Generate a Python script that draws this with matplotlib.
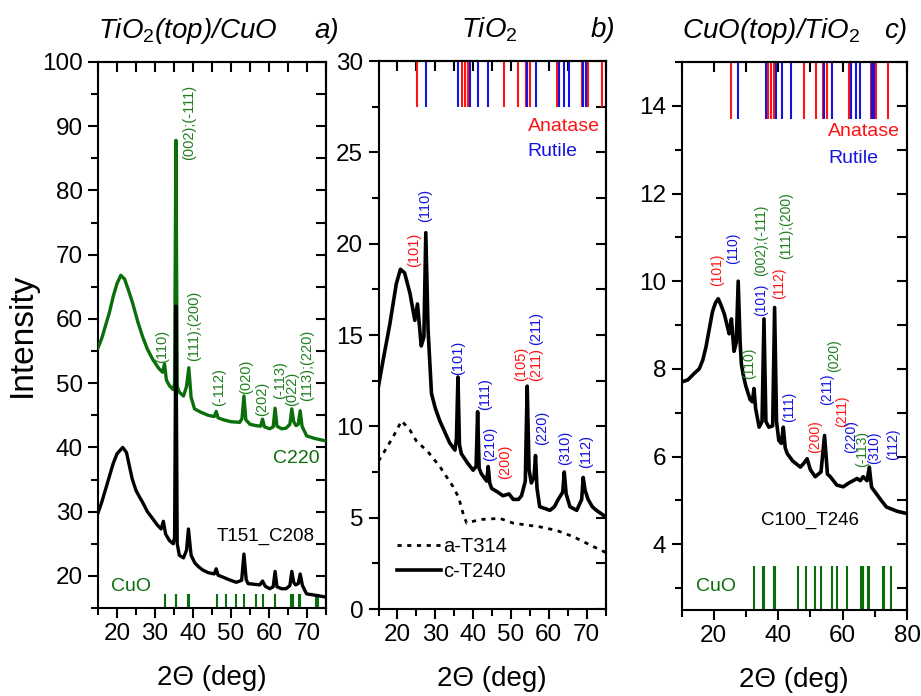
import matplotlib
matplotlib.use('Agg')
import matplotlib.pyplot as plt
from matplotlib.ticker import MultipleLocator

plt.rcParams.update({
    'font.family': ['Liberation Sans', 'DejaVu Sans'],
    'mathtext.fontset': 'custom',
    'mathtext.rm': 'Liberation Sans',
    'mathtext.it': 'Liberation Sans:italic',
    'axes.linewidth': 1.5,
})

GREEN = '#0a6e0a'
LGREEN = '#1f7f1f'
RED = '#ff1414'
BLUE = '#1414e0'

# ---------------- data: panel a ----------------
a_green_x = [15, 16, 17, 18, 19, 20, 21, 22, 23, 24.1, 25.5, 26.7, 28, 29.4, 31, 32.0, 32.5, 33.0, 33.8, 34.8,
             35.15, 35.5, 35.85, 36.4, 37.5, 38.3, 38.9, 39.5, 40.4, 42, 44, 45.6, 46.1, 46.6, 48, 50, 52.3,
             52.9, 53.4, 53.9, 55.0, 56.5, 57.8, 58.3, 58.8, 60.2, 61.1, 61.6, 62.1, 63.3, 64.5, 65.5, 66.0,
             66.5, 67.1, 67.7, 68.2, 68.7, 69.9, 72, 75]
a_green_y = [55.5, 57.0, 59.0, 61.0, 63.5, 65.5, 66.8, 66.2, 64.5, 62.5, 59.5, 57.3, 55.3, 53.7, 52.3, 51.7,
             53.0, 50.5, 49.6, 49.0, 50.0, 87.8, 49.5, 48.6, 48.0, 49.5, 52.4, 47.8, 46.0, 45.5, 45.0, 44.8,
             45.6, 44.6, 44.3, 44.0, 43.9, 44.5, 48.0, 44.3, 43.6, 43.4, 43.3, 44.4, 43.2, 42.9, 43.2, 46.1,
             43.3, 42.9, 43.0, 43.6, 46.0, 44.0, 43.4, 43.6, 45.7, 43.3, 41.8, 41.4, 41.0]

a_black_x = [15, 16, 17, 18, 19, 20, 21.5, 22.5, 23.3, 24, 25, 26, 26.7, 28, 29.4, 30.5, 31.6, 32.2, 32.8,
             33.8, 34.8, 35.15, 35.5, 35.85, 36.4, 37.5, 38.3, 38.8, 39.5, 40.5, 41.5, 42.6, 44, 45.6, 46.1,
             46.6, 47.9, 49.5, 51.4, 52.8, 53.4, 54.0, 54.5, 56, 57.6, 58.3, 59, 60.2, 61.1, 61.6, 62.1,
             63.3, 64.5, 65.5, 66.0, 66.5, 67.0, 67.7, 68.2, 68.8, 69.9, 72, 75]
a_black_y = [29.8, 31.5, 33.5, 35.5, 37.5, 39.0, 40.0, 39.2, 37.0, 35.1, 33.3, 32.2, 31.5, 30.0, 28.9, 28.0,
             27.3, 28.5, 26.5, 25.5, 25.0, 26.0, 62.0, 25.0, 23.2, 22.8, 24.0, 27.3, 23.2, 22.0, 21.4, 20.9,
             20.5, 20.3, 21.1, 20.1, 19.8, 19.4, 19.0, 19.3, 23.4, 19.4, 18.8, 18.7, 18.6, 19.2, 18.4, 18.0,
             18.3, 20.7, 18.3, 18.0, 18.0, 18.5, 20.7, 19.0, 18.6, 18.8, 20.3, 18.5, 17.2, 17.0, 16.7]

cuo_ref = [32.5, 35.4, 35.6, 38.7, 38.9, 46.2, 48.7, 51.3, 53.4, 56.7, 58.3, 61.5, 65.8, 66.2, 66.4,
           67.9, 68.1, 72.4, 72.7, 73.0, 75.0]

a_lab_x = [31.8, 39.1, 40.4, 47.0, 54.1, 58.2, 62.9, 66.1, 70.1]
a_lab_y = [53.2, 84.8, 53.5, 46.5, 48.3, 44.9, 47.5, 46.5, 47.3]
a_lab_t = ['(110)', '(002);(-111)', '(111);(200)', '(-112)', '(020)', '(202)', '(-113)', '(022)',
           '(113);(220)']

# ---------------- data: panel b ----------------
b_c_x = [15, 16.2, 18.0, 19.7, 20.8, 21.9, 23.3, 24.6, 25.3, 26.3, 27.0, 27.5, 28.1, 29.0, 30.0, 31.2,
         32.5, 33.8, 35.2, 35.6, 36.0, 36.4, 36.9, 38.5, 40.0, 40.8, 41.2, 41.6, 42.2, 43.6, 44.0, 44.4,
         44.9, 46.5, 47.9, 49.5, 50.6, 52.0, 52.8, 53.8, 54.3, 54.8, 55.4, 56.1, 56.5, 56.9, 57.6, 59.0,
         60.3, 61.5, 62.5, 63.7, 64.1, 64.6, 65.6, 67.4, 68.7, 69.1, 69.6, 70.4, 71.5, 72.6, 74, 75]
b_c_y = [12.2, 13.6, 15.6, 17.8, 18.6, 18.4, 17.3, 15.8, 16.7, 14.4, 14.9, 20.6, 15.3, 11.8, 11.0, 10.3,
         9.7, 9.1, 8.7, 9.3, 12.7, 9.0, 8.5, 8.0, 7.6, 7.8, 10.8, 7.7, 7.4, 7.0, 7.8, 6.9,
         6.6, 6.4, 6.2, 6.3, 6.0, 6.0, 6.2, 7.0, 12.2, 7.6, 6.9, 7.2, 8.4, 6.6, 5.6, 5.5,
         5.4, 5.6, 6.0, 6.4, 7.5, 6.3, 5.6, 5.4, 6.0, 7.2, 6.5, 6.0, 5.6, 5.4, 5.2, 5.05]

b_a_x = [15, 16.5, 18.8, 21.1, 23.3, 25.0, 28.1, 31.2, 34.7, 36.2, 37.4, 38.3, 41.8, 47.1, 50.6, 57.6,
         62.1, 66.5, 70.0, 75]
b_a_y = [8.1, 8.6, 9.4, 10.3, 9.8, 9.2, 8.6, 7.8, 6.7, 6.1, 5.2, 4.7, 4.9, 4.96, 4.7, 4.5,
         4.3, 3.96, 3.6, 3.1]

anatase_ref = [25.28, 36.95, 37.80, 38.58, 48.05, 51.9, 53.89, 55.06, 62.12, 62.69, 68.76, 70.31, 74.03]
rutile_ref = [27.45, 36.09, 39.19, 41.23, 44.05, 54.32, 56.64, 62.74, 64.04, 65.48, 69.01, 69.79]

b_lab_x = [24.3, 27.2, 36.0, 43.3, 44.55, 48.4, 52.8, 56.7, 56.7, 58.25, 64.4, 70.0]
b_lab_y = [18.7, 21.2, 12.8, 10.9, 8.1, 7.1, 12.5, 12.5, 14.45, 9.0, 7.9, 7.7]
b_lab_t = ['(101)', '(110)', '(101)', '(111)', '(210)', '(200)', '(105)', '(211)', '(211)', '(220)',
           '(310)', '(112)']
b_lab_c = ['A', 'R', 'R', 'R', 'R', 'A', 'A', 'A', 'R', 'R', 'R', 'R']

# ---------------- data: panel c ----------------
c_x = [10, 12, 14, 15.5, 16.6, 17.6, 18.6, 19.6, 20.5, 21.4, 22.3, 23.3, 24.3, 24.8, 25.5, 26.3, 27.0,
       27.6, 28.2, 28.6, 29.2, 30.0, 31.3, 32.0, 32.5, 33.0, 34.1, 35.0, 35.6, 36.2, 37.1, 38.3, 38.9,
       39.5, 40.2, 41.0, 41.6, 42.2, 42.8, 44.5, 46.9, 48.0, 49.0, 50.0, 51.5, 53.3, 54.4, 55.3, 56.2,
       58.2, 60.2, 62.0, 63.3, 64.5, 65.5, 66.4, 67.6, 68.3, 69.0, 70.5, 72.0, 73.6, 77, 80]
c_y = [7.7, 7.75, 7.9, 8.0, 8.2, 8.5, 8.9, 9.3, 9.5, 9.6, 9.45, 9.25, 8.95, 8.8, 9.14, 8.4, 8.6,
       10.0, 8.6, 8.1, 7.85, 7.6, 7.3, 7.25, 7.55, 7.1, 6.67, 6.8, 9.14, 6.8, 6.67, 6.7, 9.4,
       6.8, 6.37, 6.3, 6.67, 6.2, 6.07, 5.9, 5.76, 5.85, 5.95, 5.7, 5.54, 5.65, 6.48, 5.6, 5.54,
       5.35, 5.31, 5.4, 5.45, 5.5, 5.45, 5.54, 5.45, 5.76, 5.3, 5.15, 5.0, 4.85, 4.75, 4.7]

c_lab_x = [21.2, 25.9, 34.6, 34.6, 40.2, 42.6, 31.0, 43.3, 51.5, 55.1, 57.5, 59.75, 62.5, 66.0, 69.8, 75.65]
c_lab_y = [9.89, 10.39, 9.21, 10.12, 9.59, 10.5, 7.77, 6.79, 6.07, 7.17, 7.92, 6.67, 6.07, 5.76, 5.84, 5.92]
c_lab_t = ['(101)', '(110)', '(101)', '(002);(-111)', '(112)', '(111);(200)', '(110)', '(111)', '(200)',
           '(211)', '(020)', '(211)', '(220)', '(-113)', '(310)', '(112)']
c_lab_c = ['A', 'R', 'R', 'C', 'A', 'C', 'C', 'R', 'A', 'R', 'C', 'A', 'R', 'C', 'R', 'R']

COL = {'A': RED, 'R': BLUE, 'C': LGREEN}

# ---------------- figure ----------------
fig = plt.figure(figsize=(9.21, 6.96), dpi=100)
axa = fig.add_axes([98 / 921, 88 / 696, 228 / 921, 546 / 696])
axb = fig.add_axes([378.5 / 921, 87 / 696, 227 / 921, 548 / 696])
axc = fig.add_axes([681.5 / 921, 86 / 696, 225.5 / 921, 548 / 696])

TICKFS = 17.5
TITLEFS = 20
PEAKFS = 10.5


def style(ax, xlim, ylim, xmaj, xmin, ymaj, ymin, rstep):
    ax.set_xlim(*xlim)
    ax.set_ylim(*ylim)
    ax.xaxis.set_major_locator(MultipleLocator(xmaj))
    ax.xaxis.set_minor_locator(MultipleLocator(xmin))
    ax.yaxis.set_major_locator(MultipleLocator(ymaj))
    ax.yaxis.set_minor_locator(MultipleLocator(ymin))
    ax.tick_params(which='both', direction='out', width=1.5, labelsize=TICKFS, top=False, right=False)
    ax.tick_params(which='major', length=7, pad=4)
    ax.tick_params(which='minor', length=5)
    st = ax.secondary_xaxis('top')
    st.xaxis.set_major_locator(MultipleLocator(xmin))
    st.tick_params(direction='in', length=7, width=1.5, labeltop=False)
    sr = ax.secondary_yaxis('right')
    sr.yaxis.set_major_locator(MultipleLocator(rstep))
    sr.tick_params(direction='in', length=7, width=1.5, labelright=False)
    ax.set_xlabel('2\u0398 (deg)', fontsize=20, labelpad=14)


# panel a
style(axa, (15, 75), (15, 100), 10, 5, 10, 5, 5)
axa.plot(a_green_x, a_green_y, color=GREEN, lw=2.4, zorder=3)
axa.plot(a_black_x, a_black_y, color='black', lw=2.4, zorder=4)
axa.vlines(cuo_ref, 15, 17.2, color=GREEN, lw=1.5)
for x, y, t in zip(a_lab_x, a_lab_y, a_lab_t):
    axa.text(x, y, t, rotation=90, ha='center', va='bottom', color=LGREEN, fontsize=PEAKFS)
axa.text(73.2, 38.2, 'C220', color=GREEN, fontsize=14, ha='right', va='center')
axa.text(46.1, 26.1, 'T151_C208', color='black', fontsize=13.5, ha='left', va='center')
axa.text(23.8, 18.3, 'CuO', color=GREEN, fontsize=14, ha='center', va='center')
axa.set_ylabel('Intensity', fontsize=24, labelpad=3)
axa.text(0.0, 1.057, r'TiO$_\mathit{2}$(top)/CuO', transform=axa.transAxes, fontsize=TITLEFS,
         style='italic', ha='left', va='center')
axa.text(1.055, 1.057, 'a)', transform=axa.transAxes, fontsize=TITLEFS, style='italic',
         ha='right', va='center')

# panel b
style(axb, (15, 75), (0, 30), 10, 5, 5, 2.5, 2.5)
axb.plot(b_a_x, b_a_y, color='black', lw=2.0, ls=(0, (1.5, 2.0)), label='a-T314')
axb.plot(b_c_x, b_c_y, color='black', lw=2.6, label='c-T240')
axb.vlines(anatase_ref, 27.5, 30, color=RED, lw=1.5)
axb.vlines(rutile_ref, 27.5, 30, color=BLUE, lw=1.5)
for x, y, t, c in zip(b_lab_x, b_lab_y, b_lab_t, b_lab_c):
    axb.text(x, y, t, rotation=90, ha='center', va='bottom', color=COL[c], fontsize=PEAKFS)
axb.text(54.4, 26.4, 'Anatase', color=RED, fontsize=14, ha='left', va='center')
axb.text(54.4, 25.05, 'Rutile', color=BLUE, fontsize=14, ha='left', va='center')
axb.legend(loc='lower left', bbox_to_anchor=(0.02, 0.025), frameon=False, fontsize=14.5,
           handlelength=2.2, handletextpad=0.1, labelspacing=0.3, borderpad=0.2)
axb.text(0.49, 1.057, r'TiO$_\mathit{2}$', transform=axb.transAxes, fontsize=TITLEFS, style='italic',
         ha='center', va='center')
axb.text(1.045, 1.057, 'b)', transform=axb.transAxes, fontsize=TITLEFS, style='italic',
         ha='right', va='center')

# panel c
style(axc, (10, 80), (2.5, 15), 20, 10, 2, 1, 1)
axc.plot(c_x, c_y, color='black', lw=2.6)
axc.vlines(cuo_ref, 2.5, 3.5, color=GREEN, lw=1.5)
axc.vlines(anatase_ref, 13.7, 15, color=RED, lw=1.5)
axc.vlines(rutile_ref, 13.7, 15, color=BLUE, lw=1.5)
for x, y, t, c in zip(c_lab_x, c_lab_y, c_lab_t, c_lab_c):
    axc.text(x, y, t, rotation=90, ha='center', va='bottom', color=COL[c], fontsize=10)
axc.text(55.5, 13.42, 'Anatase', color=RED, fontsize=14, ha='left', va='center')
axc.text(55.5, 12.8, 'Rutile', color=BLUE, fontsize=14, ha='left', va='center')
axc.text(34.6, 4.55, 'C100_T246', color='black', fontsize=13.5, ha='left', va='center')
axc.text(20.7, 3.03, 'CuO', color=GREEN, fontsize=14, ha='center', va='center')
axc.text(0.0, 1.057, r'CuO(top)/TiO$_\mathit{2}$', transform=axc.transAxes, fontsize=TITLEFS,
         style='italic', ha='left', va='center')
axc.text(1.0, 1.057, 'c)', transform=axc.transAxes, fontsize=TITLEFS, style='italic',
         ha='right', va='center')

fig.savefig('out.png', dpi=100)
